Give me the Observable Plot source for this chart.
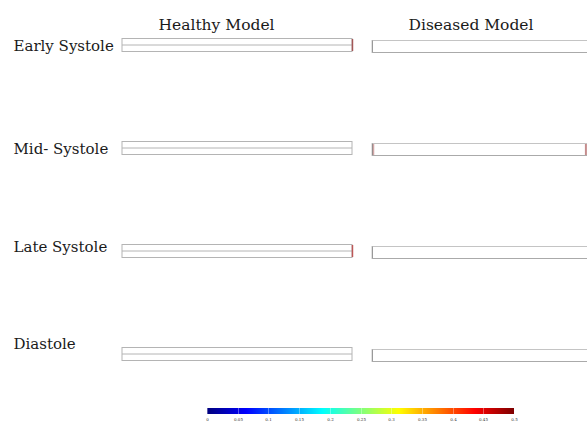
<!DOCTYPE html>
<html><head><meta charset="utf-8">
<script src="https://cdn.jsdelivr.net/npm/d3@7"></script>
<script src="https://cdn.jsdelivr.net/npm/@observablehq/plot@0.6"></script>
<style>
body{margin:0;background:#fff;overflow:hidden;}
#chart svg{display:block;}
#cbar{margin-left:207px;display:block;}
#cbar text{font-size:4px !important;fill:#333;}
#cbar .tick line{stroke:#fff;stroke-opacity:0.35;}
</style></head><body><div id="chart"></div><script>
// Rows (cardiac phases) and columns (models)
const phases = ["Early Systole", "Mid- Systole", "Late Systole", "Diastole"];
const models = ["Healthy Model", "Diseased Model"];
// Normalised axial extent of each tube (inlet, outlet)
const tubeStart = [0, 1.087];
const tubeEnd = [1, 2.03];
// Colour-mapped values seen at tube ends (null = uncoloured)
const healthyOutlet = [0.5, null, 0.48, null];
const diseasedInlet = [null, 0.5, null, null];
const diseasedOutlet = [null, 0.5, null, null];
// Colour bar
const cbarDomain = [0, 0.5];
const cbarTicks = [0, 0.05, 0.1, 0.15, 0.2, 0.25, 0.3, 0.35, 0.4, 0.45, 0.5];
const jet = ["#00007f", "#0000ff", "#007fff", "#00ffff", "#7fff7f", "#ffff00", "#ff7f00", "#ff0000", "#7f0000"];

const jetInterp = d3.piecewise(d3.interpolateRgb, jet);
const tubes = [];
phases.forEach((p, i) => models.forEach((m, j) => tubes.push({phase: p, model: m, x1: tubeStart[j], x2: tubeEnd[j]})));
const healthy = tubes.filter(d => d.model === models[0]);
const diseased = tubes.filter(d => d.model === models[1]);
const capsH = phases.map((p, i) => ({phase: p, x: tubeEnd[0], v: healthyOutlet[i]})).filter(d => d.v != null);
const capsDIn = phases.map((p, i) => ({phase: p, x: tubeStart[1], v: diseasedInlet[i]})).filter(d => d.v != null);
const capsDOut = phases.map((p, i) => ({phase: p, x: tubeEnd[1], v: diseasedOutlet[i]})).filter(d => d.v != null);
const titles = models.map((m, j) => ({model: m, x: tubeStart[j]}));

const font = "'DejaVu Serif', 'Liberation Serif', serif";
const tubeStroke = "#b4b4b4";

const plot = Plot.plot({
  width: 587,
  height: 400,
  marginLeft: 122,
  marginRight: 0,
  marginTop: 45,
  marginBottom: 46,
  style: {fontFamily: font, background: "#fff"},
  x: {domain: [0, 465 / 230], axis: null},
  y: {type: "point", domain: phases, padding: 0, axis: null},
  color: {type: "linear", domain: cbarDomain, interpolate: jetInterp},
  marks: [
    // healthy tubes
    Plot.rect(healthy, {x1: "x1", x2: "x2", y1: "phase", y2: "phase", insetTop: -6.5, insetBottom: -6.5, fill: "#fff", stroke: tubeStroke, strokeWidth: 1}),
    Plot.ruleY(healthy, {x1: "x1", x2: "x2", y: "phase", dy: -0.5, stroke: tubeStroke, strokeWidth: 1}),
    // diseased tubes
    Plot.rect(diseased, {x1: "x1", x2: "x2", y1: "phase", y2: "phase", insetTop: -6, insetBottom: -6, dy: 1.5, fill: "#fff", stroke: "#c4c4c4", strokeWidth: 1}),
    Plot.ruleX(diseased, {x: "x1", y1: "phase", y2: "phase", insetTop: -6, insetBottom: -6, dy: 1.5, stroke: "#999", strokeWidth: 1}),
    Plot.ruleY(diseased, {x1: "x1", x2: "x2", y: "phase", dy: 7, stroke: "#aaa", strokeWidth: 1}),
    // coloured end caps
    Plot.ruleX(capsH, {x: "x", y1: "phase", y2: "phase", insetTop: -6, insetBottom: -6, stroke: "v", strokeWidth: 1.5, strokeOpacity: 0.6}),
    Plot.ruleX(capsDIn, {x: "x", y1: "phase", y2: "phase", insetTop: -5.5, insetBottom: -5.5, dy: 1.5, dx: 1, stroke: "v", strokeWidth: 1.5, strokeOpacity: 0.35}),
    Plot.ruleX(capsDOut, {x: "x", y1: "phase", y2: "phase", insetTop: -5.5, insetBottom: -5.5, dy: 1.5, dx: -3.5, stroke: "v", strokeWidth: 2, strokeOpacity: 0.45}),
    // row labels
    Plot.text(phases.slice(0, 2), {y: d => d, text: d => d, frameAnchor: "left", textAnchor: "start", dx: -109, dy: 0.5, fontSize: 15, fill: "#1a1a1a"}),
    Plot.text(phases.slice(2, 3), {y: d => d, text: d => d, frameAnchor: "left", textAnchor: "start", dx: -109, dy: -4, fontSize: 15, fill: "#1a1a1a"}),
    Plot.text(phases.slice(3, 4), {y: d => d, text: d => d, frameAnchor: "left", textAnchor: "start", dx: -109, dy: -10, fontSize: 15, fill: "#1a1a1a"}),
    // column titles
    Plot.text(titles, {x: "x", text: "model", frameAnchor: "top", textAnchor: "start", dx: 36, dy: -27, fontSize: 15.5, fill: "#1a1a1a"})
  ]
});
document.getElementById("chart").appendChild(plot);

const legend = Plot.legend({
  color: {type: "linear", domain: cbarDomain, interpolate: jetInterp},
  width: 307,
  height: 22,
  marginTop: 8,
  marginBottom: 8,
  marginLeft: 0,
  marginRight: 0,
  ticks: cbarTicks,
  tickSize: 1,
  tickFormat: d => String(d),
  style: {fontFamily: font}
});
legend.id = "cbar";
document.getElementById("chart").appendChild(legend);
</script></body></html>
